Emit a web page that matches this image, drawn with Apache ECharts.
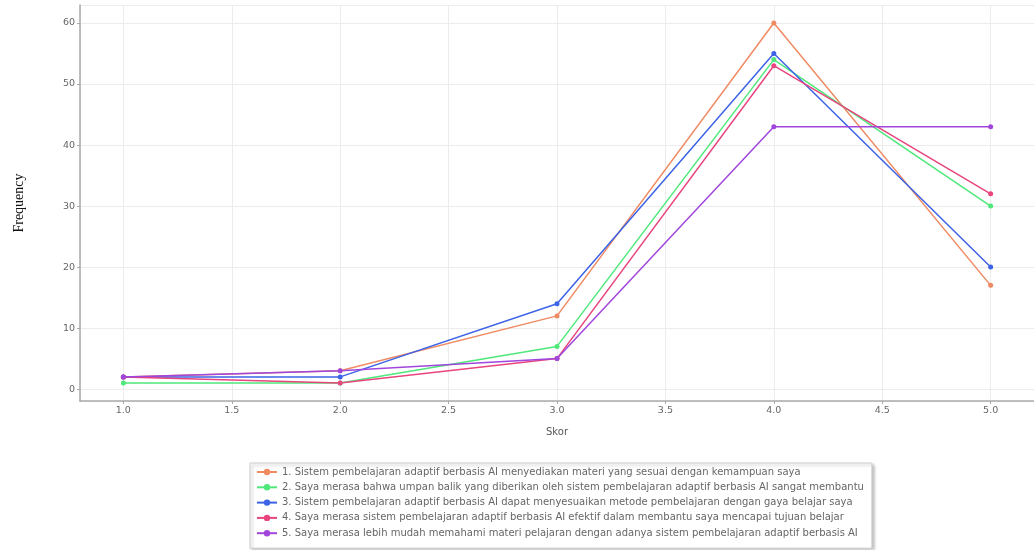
<!DOCTYPE html>
<html>
<head>
<meta charset="utf-8">
<script src="https://cdn.jsdelivr.net/npm/echarts@6/dist/echarts.min.js"></script>
<style>
  html, body { margin: 0; padding: 0; background: #fff; }
  #chart { width: 1034px; height: 550px; }
</style>
</head>
<body>
<div id="chart"></div>
<script>
  var skor = [1, 2, 3, 4, 5];

  var seriesNames = [
    '1. Sistem pembelajaran adaptif berbasis AI menyediakan materi yang sesuai dengan kemampuan saya',
    '2. Saya merasa bahwa umpan balik yang diberikan oleh sistem pembelajaran adaptif berbasis AI sangat membantu',
    '3. Sistem pembelajaran adaptif berbasis AI dapat menyesuaikan metode pembelajaran dengan gaya belajar saya',
    '4. Saya merasa sistem pembelajaran adaptif berbasis AI efektif dalam membantu saya mencapai tujuan belajar',
    '5. Saya merasa lebih mudah memahami materi pelajaran dengan adanya sistem pembelajaran adaptif berbasis AI'
  ];

  var q1 = [2, 3, 12, 60, 17];
  var q2 = [1, 1, 7, 54, 30];
  var q3 = [2, 2, 14, 55, 20];
  var q4 = [2, 1, 5, 53, 32];
  var q5 = [2, 3, 5, 43, 43];

  var colors = ['#ef8a62', '#4fe87a', '#3d63e6', '#e8457f', '#a046dc'];

  var chart = echarts.init(document.getElementById('chart'));

  function makeSeries(name, values, color) {
    return {
      name: name,
      type: 'line',
      data: skor.map(function (s, i) { return [s, values[i]]; }),
      symbol: 'circle',
      symbolSize: 5,
      lineStyle: { width: 1.5, color: color },
      itemStyle: { color: color },
      emphasis: { disabled: true }
    };
  }

  chart.setOption({
    animation: false,
    grid: { left: 80, right: -6, top: 5, bottom: 149 },
    xAxis: {
      type: 'value',
      min: 0.8,
      max: 5.2,
      splitNumber: 8,
      name: 'Skor',
      nameLocation: 'middle',
      nameGap: 26,
      nameTextStyle: { fontFamily: 'DejaVu Sans', fontSize: 10, color: '#555' },
      axisLine: { onZero: false, lineStyle: { color: '#aaa', width: 1.5 } },
      axisTick: { show: true, length: 3, lineStyle: { color: '#aaa' } },
      axisLabel: {
        showMinLabel: false, showMaxLabel: false,
        fontFamily: 'DejaVu Sans', fontSize: 9.5, color: '#666', margin: 5,
        formatter: function (v) { return v.toFixed(1); }
      },
      splitLine: { show: true, lineStyle: { color: '#ececec', width: 1 } }
    },
    yAxis: {
      type: 'value',
      min: -1.95,
      max: 62.95,
      splitNumber: 6,
      name: 'Frequency',
      nameLocation: 'middle',
      nameGap: 54,
      nameTextStyle: { fontFamily: 'Liberation Serif', fontSize: 14, color: '#111' },
      axisLine: { show: true, onZero: false, lineStyle: { color: '#aaa', width: 1.5 } },
      axisTick: { show: true, length: 3, lineStyle: { color: '#aaa' } },
      axisLabel: {
        showMinLabel: false, showMaxLabel: false,
        fontFamily: 'DejaVu Sans', fontSize: 9.5, color: '#666', margin: 5
      },
      splitLine: { show: true, lineStyle: { color: '#ececec', width: 1 } }
    },
    legend: {
      orient: 'vertical',
      left: 250,
      top: 463,
      padding: [4, 8, 10, 6],
      itemGap: 5.3,
      itemWidth: 20,
      itemHeight: 8,
      backgroundColor: '#fff',
      borderColor: '#ccc',
      borderWidth: 1,
      shadowColor: 'rgba(0,0,0,0.25)',
      shadowBlur: 3,
      shadowOffsetX: 2,
      shadowOffsetY: 2,
      textStyle: { fontFamily: 'DejaVu Sans', fontSize: 10, color: '#666', lineHeight: 10 },
      data: seriesNames
    },
    series: [
      makeSeries(seriesNames[0], q1, colors[0]),
      makeSeries(seriesNames[1], q2, colors[1]),
      makeSeries(seriesNames[2], q3, colors[2]),
      makeSeries(seriesNames[3], q4, colors[3]),
      makeSeries(seriesNames[4], q5, colors[4])
    ]
  });
</script>
</body>
</html>
